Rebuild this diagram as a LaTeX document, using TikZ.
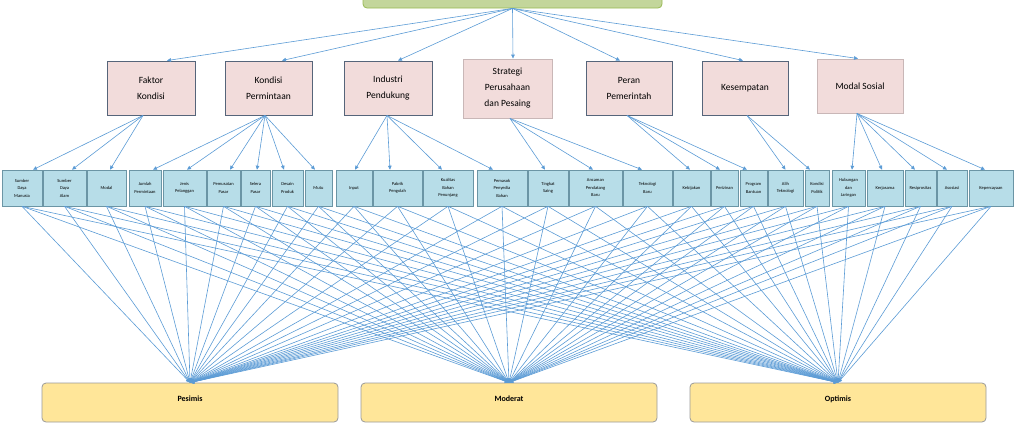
\documentclass[tikz,border=0pt]{standalone}
\usepackage{fontspec}
\setmainfont{Carlito}
\usetikzlibrary{arrows.meta}
\definecolor{lnkc}{HTML}{5B9BD5}
\definecolor{greenfill}{HTML}{C3D69B}
\definecolor{greendraw}{HTML}{98B954}
\definecolor{pinkfill}{HTML}{F2DCDB}
\definecolor{pinkdark}{HTML}{56657A}
\definecolor{pinklight}{HTML}{C9B7B7}
\definecolor{sfill}{HTML}{B7DDE8}
\definecolor{sdraw}{HTML}{6B95A5}
\definecolor{yfill}{HTML}{FFE699}
\definecolor{ydraw}{HTML}{9A9A9A}
\begin{document}
\begin{tikzpicture}[x=1pt,y=-1pt,
  lnk/.style={draw=lnkc, line width=0.6pt, -{Triangle[length=4pt,width=3.6pt]}},
  pbox/.style={rectangle, draw=pinkdark, line width=0.9pt, fill=pinkfill, align=center,
    font=\fontsize{9.5}{16}\selectfont, inner sep=0pt, minimum height=54pt},
  pboxl/.style={pbox, draw=pinklight},
  sbox/.style={rectangle, draw=sdraw, line width=0.6pt, fill=sfill, minimum height=36pt,
    align=center, font=\fontsize{4.5}{7.5}\selectfont, inner sep=0pt},
  ybox/.style={rectangle, rounded corners=4pt, draw=ydraw, line width=0.8pt, fill=yfill,
    minimum width=296pt, inner xsep=0pt, inner ysep=4pt, text height=14pt, text depth=17pt,
    font=\fontsize{8}{9}\selectfont\bfseries},
  gbox/.style={rectangle, rounded corners=4pt, draw=greendraw, line width=0.8pt, fill=greenfill,
    minimum width=299pt, minimum height=28pt}
]
\useasboundingbox (0,0) rectangle (1015,424);
\clip (0,0) rectangle (1015,424);

% top box (cut off at top)
\node[gbox] (top) at (512.5,-6) {};

% second level
\node[pbox, minimum width=88pt] (fk) at (151,88) {Faktor\\Kondisi};
\node[pbox, minimum width=87pt] (kp) at (268.5,88) {Kondisi\\Permintaan};
\node[pbox, minimum width=88pt] (ip) at (388,88) {Industri\\Pendukung};
\node[pboxl, minimum width=89pt, minimum height=59pt] (sp) at (507.5,88.5) {Strategi\\Perusahaan\\dan Pesaing};
\node[pbox, minimum width=86pt] (pp) at (629,88) {Peran\\Pemerintah};
\node[pbox, minimum width=86pt] (ks) at (745,88) {Kesempatan};
\node[pboxl, minimum width=86pt] (ms) at (860,86) {Modal Sosial};

% third level
\node[sbox, minimum width=40pt] (b1) at (22,188) {Sumber\\Daya\\Manusia};
\node[sbox, minimum width=43pt] (b2) at (64.5,188) {Sumber\\Daya\\Alam};
\node[sbox, minimum width=39pt] (b3) at (106.5,188) {Modal};
\node[sbox, minimum width=32pt] (b4) at (145,188) {Jumlah\\Permintaan};
\node[sbox, minimum width=43pt] (b5) at (184.5,188) {Jenis\\Pelanggan};
\node[sbox, minimum width=33pt] (b6) at (223.5,188) {Pemusatan\\Pasar};
\node[sbox, minimum width=29pt] (b7) at (255.5,188) {Selera\\Pasar};
\node[sbox, minimum width=31pt] (b8) at (287.5,188) {Desain\\Produk};
\node[sbox, minimum width=27pt] (b9) at (318.5,188) {Mutu};
\node[sbox, minimum width=36pt] (b10) at (354,188) {Input};
\node[sbox, minimum width=49pt] (b11) at (397.5,188) {Pabrik\\Pengolah};
\node[sbox, minimum width=50pt] (b12) at (448,188) {Kualitas\\Bahan\\Penunjang};
\node[sbox, minimum width=50pt] (b13) at (502,188) {Pemasok\\Penyedia\\Bahan};
\node[sbox, minimum width=40pt] (b14) at (548,188) {Tingkat\\Saing};
\node[sbox, minimum width=53pt] (b15) at (595.5,188) {Ancaman\\Pendatang\\Baru};
\node[sbox, minimum width=49pt] (b16) at (647.5,188) {Teknologi\\Baru};
\node[sbox, minimum width=37pt] (b17) at (691.5,188) {Kebijakan};
\node[sbox, minimum width=27pt] (b18) at (724.5,188) {Perizinan};
\node[sbox, minimum width=27pt] (b19) at (753.5,188) {Program\\Bantuan};
\node[sbox, minimum width=35pt] (b20) at (785.5,188) {Alih\\Teknologi};
\node[sbox, minimum width=24pt] (b21) at (817,188) {Kondisi\\Politik};
\node[sbox, minimum width=33pt] (b22) at (848.5,188) {Hubungan\\dan\\Jaringan};
\node[sbox, minimum width=36pt] (b23) at (885,188) {Kerjasama};
\node[sbox, minimum width=31pt] (b24) at (920.5,188) {Resiprositas};
\node[sbox, minimum width=30pt] (b25) at (952,188) {Asosiasi};
\node[sbox, minimum width=44pt] (b26) at (991,188) {Kepercayaan};

% bottom level
\node[ybox] (pes) at (190,402.5) {Pesimis};
\node[ybox] (mod) at (509,402.5) {Moderat};
\node[ybox] (opt) at (838,402.5) {Optimis};

% bottom connectors
\foreach \i in {1,...,26}{
  \foreach \t in {pes,mod,opt}{
    \draw[lnk] (b\i.south) -- (\t.north);
  }
}

% top to second level
\draw[lnk] (top.south) -- ([xshift=16pt]fk.north);
\draw[lnk] (top.south) -- ([xshift=13.5pt]kp.north);
\draw[lnk] (top.south) -- ([xshift=10pt]ip.north);
\draw[lnk] (top.south) -- ([xshift=0.5pt]top.south |- sp.north);
\draw[lnk] (top.south) -- ([xshift=-9pt]pp.north);
\draw[lnk] (top.south) -- ([xshift=-2pt]ks.north);
\draw[lnk] (top.south) -- ([xshift=-2pt]ms.north);

% second to third level
\draw[lnk] ([xshift=-8pt]fk.south) -- ([xshift=11pt]b1.north);
\draw[lnk] ([xshift=-8pt]fk.south) -- ([xshift=7.5pt]b2.north);
\draw[lnk] ([xshift=-8pt]fk.south) -- ([xshift=3.5pt]b3.north);

\draw[lnk] ([xshift=-3.5pt]kp.south) -- ([xshift=8pt]b4.north);
\draw[lnk] ([xshift=-3.5pt]kp.south) -- ([xshift=2.5pt]b5.north);
\draw[lnk] ([xshift=-3.5pt]kp.south) -- ([xshift=6.5pt]b6.north);
\draw[lnk] ([xshift=-3.5pt]kp.south) -- ([xshift=1.5pt]b7.north);
\draw[lnk] ([xshift=-3.5pt]kp.south) -- ([xshift=-3.5pt]b8.north);
\draw[lnk] ([xshift=-3.5pt]kp.south) -- ([xshift=-3.5pt]b9.north);

\draw[lnk] ([xshift=-1pt]ip.south) -- ([xshift=1pt]b10.north);
\draw[lnk] ([xshift=-1pt]ip.south) -- ([xshift=-7.5pt]b11.north);
\draw[lnk] ([xshift=-1pt]ip.south) -- ([xshift=-6pt]b12.north);
\draw[lnk] ([xshift=-1pt]ip.south) -- ([xshift=-9pt]b13.north);

\draw[lnk] ([xshift=2.5pt]sp.south) -- ([xshift=-3pt]b14.north);
\draw[lnk] ([xshift=2.5pt]sp.south) -- ([xshift=-2.5pt]b15.north);
\draw[lnk] ([xshift=2.5pt]sp.south) -- ([xshift=-5.5pt]b16.north);

\draw[lnk] ([xshift=-2pt]pp.south) -- ([xshift=-1.5pt]b17.north);
\draw[lnk] ([xshift=-2pt]pp.south) -- ([xshift=-4.5pt]b18.north);
\draw[lnk] ([xshift=-2pt]pp.south) -- ([xshift=-6.5pt]b19.north);

\draw[lnk] ([xshift=2pt]ks.south) -- ([xshift=0pt]b20.north);
\draw[lnk] ([xshift=2pt]ks.south) -- ([xshift=-7pt]b21.north);

\draw[lnk] ([xshift=-3pt]ms.south) -- ([xshift=3.5pt]b22.north);
\draw[lnk] ([xshift=-3pt]ms.south) -- ([xshift=-3pt]b23.north);
\draw[lnk] ([xshift=-3pt]ms.south) -- ([xshift=-5.5pt]b24.north);
\draw[lnk] ([xshift=-3pt]ms.south) -- ([xshift=-5pt]b25.north);
\draw[lnk] ([xshift=-3pt]ms.south) -- ([xshift=-6pt]b26.north);
\end{tikzpicture}
\end{document}
